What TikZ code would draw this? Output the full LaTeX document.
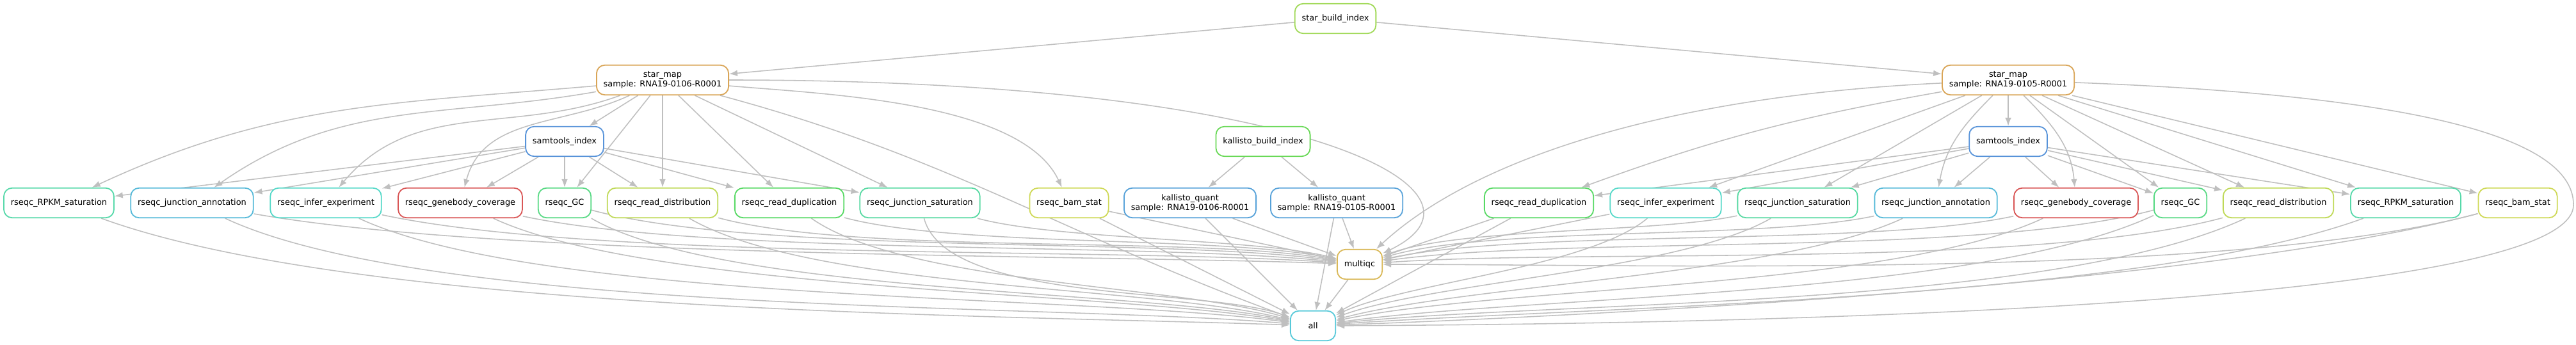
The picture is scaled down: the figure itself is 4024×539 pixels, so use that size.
\documentclass[tikz,border=0pt]{standalone}
\usepackage{fontspec}
\setmainfont{DejaVu Sans}
\usetikzlibrary{arrows.meta,backgrounds}
\definecolor{cSbi}{RGB}{160,217,87}
\definecolor{cSm}{RGB}{217,165,87}
\definecolor{cSi}{RGB}{87,147,217}
\definecolor{cKbi}{RGB}{105,217,87}
\definecolor{cKq}{RGB}{87,162,217}
\definecolor{cRpkm}{RGB}{87,217,170}
\definecolor{cJa}{RGB}{87,186,217}
\definecolor{cIe}{RGB}{87,217,201}
\definecolor{cGb}{RGB}{217,87,87}
\definecolor{cGc}{RGB}{87,217,131}
\definecolor{cRdist}{RGB}{191,217,87}
\definecolor{cRdup}{RGB}{87,217,100}
\definecolor{cJs}{RGB}{87,217,162}
\definecolor{cBs}{RGB}{207,217,87}
\definecolor{cMqc}{RGB}{217,184,87}
\definecolor{cAll}{RGB}{87,201,217}
\tikzset{rulebox/.style={draw, line width=0.28pt, rounded corners=2pt, fill=white,
    minimum height=7.2pt, minimum width=10.9pt, inner xsep=1.68pt, inner ysep=0.2pt,
    align=center, font=\fontsize{2}{2.32}\selectfont}}
\tikzset{dep/.style={draw=black!25, line width=0.24pt, -{Latex[length=2pt,width=1.5pt]}}}

\begin{document}
\begin{tikzpicture}[x=0.155pt, y=0.155pt]
    \useasboundingbox (0,0) rectangle (4024,-539);
    % upper rules
    \node[rulebox, draw=cSbi] (sbi) at (2086,-29) {star\_build\_index};
    \node[rulebox, draw=cSm] (sm06) at (1035,-125) {star\_map\\sample: RNA19-0106-R0001};
    \node[rulebox, draw=cSm] (sm05) at (3137,-125) {star\_map\\sample: RNA19-0105-R0001};
    \node[rulebox, draw=cSi] (si06) at (882,-221) {samtools\_index};
    \node[rulebox, draw=cKbi] (kbi) at (1973,-221) {kallisto\_build\_index};
    \node[rulebox, draw=cSi] (si05) at (3137,-221) {samtools\_index};
    % rseqc row, sample 0106
    \node[rulebox, draw=cRpkm] (rpkm06) at (92,-317) {rseqc\_RPKM\_saturation};
    \node[rulebox, draw=cJa] (ja06) at (300,-317) {rseqc\_junction\_annotation};
    \node[rulebox, draw=cIe] (ie06) at (509,-317) {rseqc\_infer\_experiment};
    \node[rulebox, draw=cGb] (gb06) at (719,-317) {rseqc\_genebody\_coverage};
    \node[rulebox, draw=cGc] (gc06) at (882,-317) {rseqc\_GC};
    \node[rulebox, draw=cRdist] (rdist06) at (1035,-317) {rseqc\_read\_distribution};
    \node[rulebox, draw=cRdup] (rdup06) at (1233,-317) {rseqc\_read\_duplication};
    \node[rulebox, draw=cJs] (js06) at (1437,-317) {rseqc\_junction\_saturation};
    \node[rulebox, draw=cBs] (bs06) at (1670,-317) {rseqc\_bam\_stat};
    \node[rulebox, draw=cKq] (kq06) at (1859,-317) {kallisto\_quant\\sample: RNA19-0106-R0001};
    \node[rulebox, draw=cKq] (kq05) at (2088,-317) {kallisto\_quant\\sample: RNA19-0105-R0001};
    % rseqc row, sample 0105
    \node[rulebox, draw=cRdup] (rdup05) at (2404,-317) {rseqc\_read\_duplication};
    \node[rulebox, draw=cIe] (ie05) at (2602,-317) {rseqc\_infer\_experiment};
    \node[rulebox, draw=cJs] (js05) at (2808,-317) {rseqc\_junction\_saturation};
    \node[rulebox, draw=cJa] (ja05) at (3024,-317) {rseqc\_junction\_annotation};
    \node[rulebox, draw=cGb] (gb05) at (3243,-317) {rseqc\_genebody\_coverage};
    \node[rulebox, draw=cGc] (gc05) at (3406,-317) {rseqc\_GC};
    \node[rulebox, draw=cRdist] (rdist05) at (3559,-317) {rseqc\_read\_distribution};
    \node[rulebox, draw=cRpkm] (rpkm05) at (3758,-317) {rseqc\_RPKM\_saturation};
    \node[rulebox, draw=cBs] (bs05) at (3933,-317) {rseqc\_bam\_stat};
    % report and target
    \node[rulebox, draw=cMqc] (mqc) at (2124,-413) {multiqc};
    \node[rulebox, draw=cAll] (all) at (2051,-509) {all};

    \begin{pgfonlayer}{background}
    \fill[white] (0,0) rectangle (4024,-539);
    % indexes
    \draw[dep] (sbi) -- (sm06);
    \draw[dep] (sbi) -- (sm05);
    \draw[dep] (kbi) -- (kq06);
    \draw[dep] (kbi) -- (kq05);
    % star_map 0106
    \draw[dep] (sm06) -- (si06);
    \draw[dep] (sm06) to[out=185,in=25] (rpkm06);
    \draw[dep] (sm06) to[out=190,in=35] (ja06);
    \draw[dep] (sm06) to[out=200,in=50] (ie06);
    \draw[dep] (sm06) to[out=205,in=75] (gb06);
    \draw[dep] (sm06) -- (gc06);
    \draw[dep] (sm06) -- (rdist06);
    \draw[dep] (sm06) -- (rdup06);
    \draw[dep] (sm06) -- (js06);
    \draw[dep] (sm06) to[out=-5,in=115,looseness=0.7] (bs06);
    \draw[dep] (sm06) .. controls (2050,-125) and (2360,-300) .. (mqc);
    \draw[dep] (sm06) to[out=-15,in=160] (all);
    % samtools_index 0106
    \draw[dep] (si06) -- (rpkm06);
    \draw[dep] (si06) -- (ja06);
    \draw[dep] (si06) -- (ie06);
    \draw[dep] (si06) -- (gb06);
    \draw[dep] (si06) -- (gc06);
    \draw[dep] (si06) -- (rdist06);
    \draw[dep] (si06) -- (rdup06);
    \draw[dep] (si06) -- (js06);
    % into multiqc from the left
    \draw[dep] (ja06) to[out=-10,in=178,looseness=0.6] (mqc);
    \draw[dep] (ie06) to[out=-12,in=176,looseness=0.6] (mqc);
    \draw[dep] (gb06) to[out=-12,in=174,looseness=0.6] (mqc);
    \draw[dep] (gc06) to[out=-15,in=172,looseness=0.6] (mqc);
    \draw[dep] (rdist06) to[out=-15,in=170,looseness=0.6] (mqc);
    \draw[dep] (rdup06) to[out=-15,in=168,looseness=0.6] (mqc);
    \draw[dep] (js06) to[out=-15,in=166,looseness=0.6] (mqc);
    \draw[dep] (bs06) -- (mqc);
    \draw[dep] (kq06) -- (mqc);
    \draw[dep] (kq05) -- (mqc);
    % into all from the left
    \draw[dep] (rpkm06) to[out=-20,in=178,looseness=0.6] (all);
    \draw[dep] (ja06) to[out=-25,in=175,looseness=0.55] (all);
    \draw[dep] (ie06) to[out=-25,in=172,looseness=0.55] (all);
    \draw[dep] (gb06) to[out=-25,in=170,looseness=0.55] (all);
    \draw[dep] (gc06) to[out=-30,in=168,looseness=0.55] (all);
    \draw[dep] (rdist06) to[out=-30,in=166,looseness=0.6] (all);
    \draw[dep] (rdup06) to[out=-35,in=163,looseness=0.6] (all);
    \draw[dep] (js06) to[out=-75,in=160,looseness=0.6] (all);
    \draw[dep] (bs06) -- (all);
    \draw[dep] (kq06) -- (all);
    \draw[dep] (kq05) -- (all);
    \draw[dep] (mqc) -- (all);
    % star_map 0105
    \draw[dep] (sm05) -- (si05);
    \draw[dep] (sm05) to[out=190,in=20] (rdup05);
    \draw[dep] (sm05) -- (ie05);
    \draw[dep] (sm05) -- (js05);
    \draw[dep] (sm05) to[out=-135,in=80] (ja05);
    \draw[dep] (sm05) to[out=-45,in=95] (gb05);
    \draw[dep] (sm05) -- (gc05);
    \draw[dep] (sm05) -- (rdist05);
    \draw[dep] (sm05) -- (rpkm05);
    \draw[dep] (sm05) -- (bs05);
    \draw[dep] (sm05) .. controls (2600,-150) and (2300,-250) .. (mqc);
    \draw[dep] (sm05) .. controls (3800,-150) and (4020,-220) .. (4020,-320)
        .. controls (4020,-460) and (3000,-505) .. (all);
    % samtools_index 0105
    \draw[dep] (si05) -- (rdup05);
    \draw[dep] (si05) -- (ie05);
    \draw[dep] (si05) -- (js05);
    \draw[dep] (si05) -- (ja05);
    \draw[dep] (si05) -- (gb05);
    \draw[dep] (si05) -- (gc05);
    \draw[dep] (si05) -- (rdist05);
    \draw[dep] (si05) -- (rpkm05);
    % into multiqc from the right
    \draw[dep] (rdup05) -- (mqc);
    \draw[dep] (ie05) -- (mqc);
    \draw[dep] (js05) to[out=192,in=20,looseness=0.6] (mqc);
    \draw[dep] (ja05) to[out=192,in=16,looseness=0.6] (mqc);
    \draw[dep] (gb05) to[out=192,in=12,looseness=0.6] (mqc);
    \draw[dep] (gc05) to[out=195,in=8,looseness=0.6] (mqc);
    \draw[dep] (rdist05) to[out=195,in=4,looseness=0.6] (mqc);
    \draw[dep] (bs05) to[out=195,in=0,looseness=0.6] (mqc);
    % into all from the right
    \draw[dep] (rdup05) -- (all);
    \draw[dep] (ie05) to[out=220,in=25,looseness=0.6] (all);
    \draw[dep] (js05) to[out=210,in=20,looseness=0.6] (all);
    \draw[dep] (ja05) to[out=205,in=15,looseness=0.6] (all);
    \draw[dep] (gb05) to[out=205,in=12,looseness=0.6] (all);
    \draw[dep] (gc05) to[out=205,in=8,looseness=0.6] (all);
    \draw[dep] (rdist05) to[out=205,in=6,looseness=0.6] (all);
    \draw[dep] (rpkm05) to[out=200,in=4,looseness=0.6] (all);
    \draw[dep] (bs05) to[out=195,in=2,looseness=0.6] (all);
    \end{pgfonlayer}
\end{tikzpicture}
\end{document}
